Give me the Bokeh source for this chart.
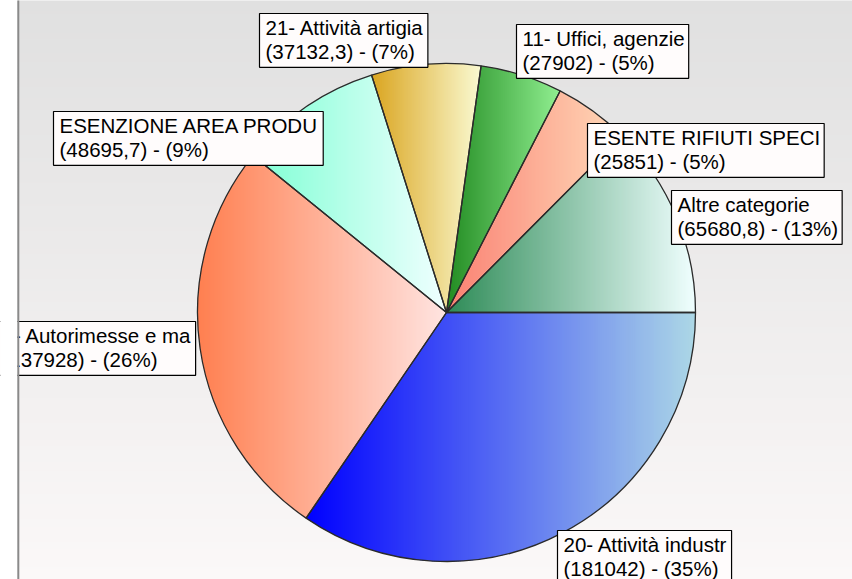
import numpy as np
from bokeh.plotting import figure
from bokeh.models import Range1d, ColumnDataSource
from bokeh.core.properties import value
from bokeh.embed import file_html
from bokeh.resources import INLINE

# ---------------- data ----------------
categories = ["Altre categorie", "ESENTE RIFIUTI SPECI", "11- Uffici, agenzie",
              "21- Attività artigia", "ESENZIONE AREA PRODU", "3- Autorimesse e ma",
              "20- Attività industr"]
values = [65680.8, 25851, 27902, 37132.3, 48695.7, 137928, 181042]

# ---------------- styles / layout ----------------
left_colors = ["#2e8b57", "#fa8072", "#228b22", "#daa520", "#7fffd4", "#ff7f50", "#0000ff"]
right_colors = ["#f0ffff", "#ffdab9", "#90ee90", "#fafad2", "#f0ffff", "#ffe4e1", "#add8e6"]
# label box top-left corners, in pixel coordinates (y from top)
label_pos = [(671, 190), (587, 123), (516, 24), (259, 13), (53, 111), (-4, 321), (557, 530)]

W, H = 852.0, 579.0
CX, CY, R = 446.0, H - 312.0, 249.0


def to_rgb(h):
    h = h.lstrip("#")
    return np.array([int(h[i:i + 2], 16) for i in (0, 2, 4)], dtype=float)


def mix(c0, c1, t):
    c = to_rgb(c0) * (1 - t) + to_rgb(c1) * t
    return "#%02x%02x%02x" % tuple(int(round(v)) for v in c)


def clip(poly, x0, keep_ge):
    out = []
    n = len(poly)
    for i in range(n):
        P = poly[i]
        Q = poly[(i + 1) % n]
        pin = P[0] >= x0 if keep_ge else P[0] <= x0
        qin = Q[0] >= x0 if keep_ge else Q[0] <= x0
        if pin:
            out.append(P)
        if pin != qin:
            t = (x0 - P[0]) / (Q[0] - P[0])
            out.append((x0, P[1] + t * (Q[1] - P[1])))
    return out


def fmt(v):
    if float(v) == int(v):
        return str(int(v))
    return ("%s" % v).replace(".", ",")


total = float(sum(values))
fracs = [v / total for v in values]
cum = np.concatenate([[0.0], np.cumsum(fracs)])
starts = list(cum[:-1] * 2 * np.pi)
ends = list(cum[1:] * 2 * np.pi)

p = figure(width=int(W), height=int(H), x_range=Range1d(0, W), y_range=Range1d(0, H),
           output_backend="svg", toolbar_location=None,
           x_axis_type=None, y_axis_type=None, min_border=0)
p.grid.visible = False
p.outline_line_color = None
p.background_fill_color = "white"
p.border_fill_color = "white"

# background vertical gradient
bl, br, bt, bb, bc = [], [], [], [], []
step = 3
for k in range(0, 585, step):
    t = k / H
    bl.append(17)
    br.append(W + 10)
    bt.append(H - k + 1)
    bb.append(H - k - step - 1)
    bc.append(mix("#e0e0e0", "#fbf8f8", min(t, 1.0)))
p.quad(left=bl, right=br, top=bt, bottom=bb, fill_color=bc, line_color=None)

# base wedges (mid colour)
wsrc = ColumnDataSource(dict(
    x=[CX] * len(values), y=[CY] * len(values),
    start=starts, end=ends, cat=categories, val=values,
    mid=[mix(a, b, 0.5) for a, b in zip(left_colors, right_colors)]))
p.wedge(x="x", y="y", radius=R, start_angle="start", end_angle="end",
        fill_color="mid", line_color=None, source=wsrc)

# horizontal gradient strips inside each wedge
sx, sy, sc = [], [], []
for i in range(len(values)):
    a0, a1 = starts[i], ends[i]
    nseg = max(8, int(np.degrees(a1 - a0) * 2))
    th = np.linspace(a0, a1, nseg)
    poly = [(CX, CY)] + [(CX + R * np.cos(t), CY + R * np.sin(t)) for t in th]
    xs = [q[0] for q in poly]
    xmin, xmax = min(xs), max(xs)
    w = 2.0
    nst = int(np.ceil((xmax - xmin) / w))
    for k in range(nst):
        x0 = xmin + k * w
        x1 = min(x0 + w + 1.0, xmax)
        piece = clip(clip(poly, x0, True), x1, False)
        if len(piece) < 3:
            continue
        t = min(1.0, (x0 + w / 2 - xmin) / (xmax - xmin))
        sx.append([q[0] for q in piece])
        sy.append([q[1] for q in piece])
        sc.append(mix(left_colors[i], right_colors[i], t))
p.patches(xs=sx, ys=sy, fill_color=sc, line_color=None)

# wedge outlines
p.wedge(x="x", y="y", radius=R, start_angle="start", end_angle="end",
        fill_color=None, line_color="#2b2b2b", line_width=1.3, source=wsrc)

# labels
texts = []
for c, v, f in zip(categories, values, fracs):
    texts.append("%s\n(%s) - (%d%%)" % (c, fmt(v), int(round(f * 100))))
lsrc = ColumnDataSource(dict(x=[q[0] for q in label_pos],
                             y=[H - q[1] for q in label_pos],
                             text=texts))
p.text(x="x", y="y", text="text", source=lsrc, anchor=value("top_left"),
       text_align="left", text_baseline="top",
       text_font=value("Liberation Sans"), text_font_size="20.5px",
       text_line_height=1.08, text_color="black",
       background_fill_color="#fffcfc", border_line_color="black",
       border_line_width=1.2, padding=dict(left=6, right=4, top=2, bottom=4))

# left white margin and chart border line
p.quad(left=[-10], right=[17], top=[H + 20], bottom=[-20], fill_color="white", line_color=None)
p.segment(x0=[17.8], y0=[-20], x1=[17.8], y1=[H + 20], line_color="#8a8a8a", line_width=2)

open("out.html", "w").write(file_html(p, INLINE))
